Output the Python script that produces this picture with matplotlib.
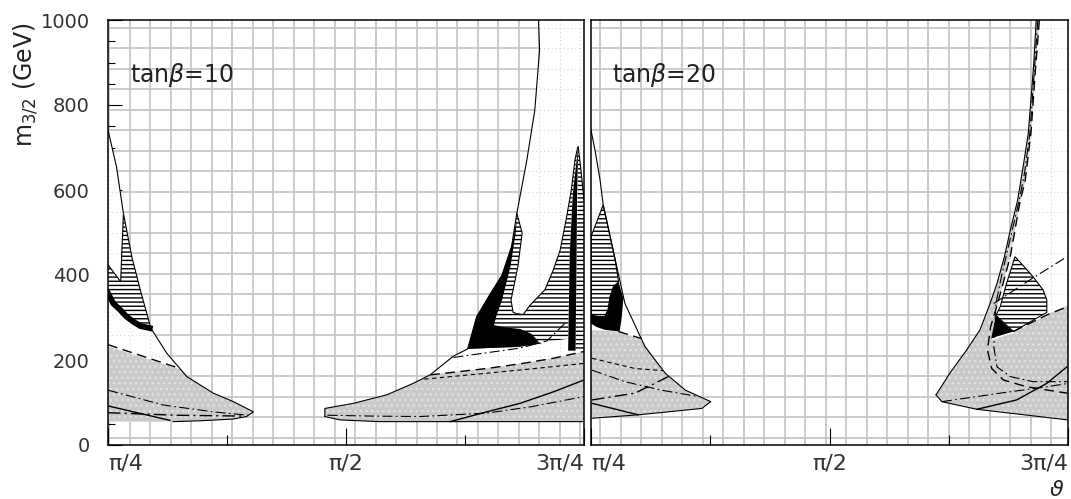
import numpy as np
import matplotlib.pyplot as plt
from matplotlib.patches import Polygon

# theta in degrees (45 = pi/4 ... 135 = 3pi/4), m_3/2 in GeV

# ---- tan(beta) = 10 : left region ----
t10_blob_x = [45.0, 46.6, 47.9, 49.5, 51.1, 53.1, 56.1, 59.9, 64.9, 68.7, 72.5, 71.2, 68.6, 62.4, 57.3, 45.0]
t10_blob_m = [741, 655, 546, 443, 365, 275, 216, 161, 122, 102, 78, 67, 61, 57, 55, 55]
t10_gray_x = [45.0, 58.9, 59.9, 64.9, 68.7, 72.5, 71.2, 68.6, 62.4, 57.3, 45.0]
t10_gray_m = [232, 177, 161, 122, 102, 78, 67, 61, 57, 55, 55]
t10_hatch_x = [45.0, 47.4, 47.6, 47.9, 49.5, 51.1, 53.1, 51.1, 49.8, 48.5, 47.3, 46.0, 45.0]
t10_hatch_m = [424, 384, 450, 540, 443, 365, 275, 280, 290, 302, 318, 333, 357]
t10_band_x = [45.0, 46.0, 47.3, 48.5, 49.8, 51.1, 52.9]
t10_band_m = [357, 333, 318, 302, 290, 280, 275]
t10_notch_x = [45.0, 47.4, 47.6, 47.9]
t10_notch_m = [424, 384, 450, 540]
t10_dash_a_x = [45.0, 58.6]
t10_dash_a_m = [236, 180]
t10_dd_a_x = [45.0, 55.5, 64.9, 71.5]
t10_dd_a_m = [129, 94, 78, 70]
t10_dd_b_x = [45.0, 58.0, 71.0]
t10_dd_b_m = [76, 70, 68]
t10_sol_a_x = [45.0, 56.7]
t10_sol_a_m = [92, 58]

# ---- tan(beta) = 10 : right region ----
t10_outer_x = [86.0, 86.0, 91.4, 97.7, 102.7, 105.9, 110.3, 113.0, 114.7, 117.0, 119.5,
               121.3, 122.3, 124.2, 125.7, 126.6, 126.4, 135.0, 135.0, 96.4, 88.9]
t10_outer_m = [67, 86, 98, 118, 145, 165, 209, 226, 302, 350, 400,
               467, 545, 671, 788, 929, 1000, 1000, 55, 55, 59]
t10_gray2_x = [86.0, 91.4, 97.7, 102.7, 105.9, 116.6, 122.9, 129.2, 135.0, 135.0, 96.4, 88.9, 86.0]
t10_gray2_m = [86, 98, 118, 145, 165, 180, 191, 204, 220, 55, 55, 59, 67]
t10_u_x = [113.0, 114.7, 117.0, 119.5, 121.3, 122.3, 123.3, 122.5, 121.2, 121.6, 122.3, 123.5,
           124.8, 127.6, 129.2, 130.5, 131.6, 132.6, 133.3, 133.8, 132.9, 132.3, 132.0,
           129.0, 126.5, 122.9, 116.6]
t10_u_m = [226, 302, 350, 400, 467, 545, 499, 420, 341, 312, 309, 307,
           329, 365, 412, 459, 529, 600, 671, 700, 593, 450, 250,
           245, 238, 231, 228]
t10_black_x = [113.0, 114.7, 117.0, 119.5, 121.3, 122.3, 122.1, 121.1, 119.5, 118.4, 118.0,
               120.0, 122.9, 125.0, 126.3, 126.5, 122.9, 116.6]
t10_black_m = [226, 302, 350, 400, 467, 530, 500, 420, 341, 302, 282,
               277, 273, 262, 245, 238, 231, 228]
t10_tongue_x = [122.3, 123.3, 122.5, 121.2, 121.6, 122.3, 123.5, 124.8, 127.6, 129.2,
                130.5, 131.6, 132.6, 133.3, 133.8]
t10_tongue_m = [545, 499, 420, 341, 312, 309, 307, 329, 365, 412,
                459, 529, 600, 671, 700]
t10_strip_x = [132.0, 132.3, 132.9, 133.9, 133.7, 133.6, 133.4]
t10_strip_m = [222, 450, 593, 702, 593, 450, 222]
t10_shatch_x = [133.4, 135.0, 135.0, 134.4, 133.9]
t10_shatch_m = [222, 222, 576, 650, 700]
t10_dash_b_x = [105.9, 116.6, 122.9, 129.2, 135.0]
t10_dash_b_m = [165, 180, 191, 204, 220]
t10_dash_c_x = [104.8, 115.0, 125.0, 135.0]
t10_dash_c_m = [155, 167, 179, 192]
t10_sol_b_x = [109.7, 116.6, 122.9, 129.2, 135.0]
t10_sol_b_m = [55, 78, 98, 125, 153]
t10_dd_c_x = [86.5, 95.0, 104.0, 116.6, 125.0, 135.0]
t10_dd_c_m = [70, 68, 67, 75, 90, 114]
t10_dd_d_x = [110.3, 116.0, 122.9, 128.0, 131.7]
t10_dd_d_m = [206, 216, 228, 245, 290]

# ---- tan(beta) = 20 : left region ----
t20_blob_x = [45.0, 45.75, 46.7, 47.3, 49.5, 51.4, 55.2, 59.0, 62.8, 67.6, 65.9, 53.9, 45.2, 45.0]
t20_blob_m = [741, 694, 624, 565, 440, 333, 231, 169, 129, 102, 86, 71, 63, 63]
t20_gray_x = [45.0, 47.6, 50.4, 54.6, 59.0, 62.8, 67.6, 65.9, 53.9, 45.2, 45.0]
t20_gray_m = [270, 269, 266, 247, 169, 129, 102, 86, 71, 63, 63]
t20_hatch_x = [45.0, 47.3, 49.5, 50.2, 49.2, 48.6, 48.2, 47.6, 46.4, 45.0]
t20_hatch_m = [490, 565, 440, 384, 372, 349, 318, 302, 302, 306]
t20_black_x = [45.0, 46.4, 47.6, 48.2, 48.6, 49.2, 50.2, 51.1, 50.8, 50.4, 47.6, 46.0, 45.0]
t20_black_m = [306, 302, 302, 318, 349, 372, 384, 345, 300, 267, 271, 278, 286]
t20_dash_a_x = [50.2, 54.6]
t20_dash_a_m = [267, 250]
t20_dash_b_x = [45.2, 53.3, 58.6]
t20_dash_b_m = [204, 180, 175]
t20_dd_a_x = [45.2, 51.4, 58.3, 65.2]
t20_dd_a_m = [176, 149, 129, 114]
t20_dd_b_x = [45.2, 53.3, 59.6]
t20_dd_b_m = [106, 122, 161]
t20_sol_a_x = [45.2, 53.9]
t20_sol_a_m = [98, 71]

# ---- tan(beta) = 20 : right region ----
t20_outer_x = [110.1, 112.7, 115.9, 118.4, 120.3, 121.6, 123.0, 124.2, 125.5, 126.6, 127.5, 128.5, 129.0,
               135.0, 135.0, 117.8, 111.2]
t20_outer_m = [118, 169, 224, 271, 333, 380, 443, 510, 576, 660, 733, 890, 1000,
               1000, 59, 84, 102]
t20_gray2_x = [110.1, 112.7, 115.9, 118.4, 120.3, 121.6, 123.0, 124.2, 125.5, 126.6, 127.5, 128.5, 129.0,
               129.6, 128.9, 128.0, 126.9, 126.0, 124.1, 121.9, 120.6, 124.7, 131.0, 135.0, 135.0, 117.8, 111.2]
t20_gray2_m = [118, 169, 224, 271, 333, 380, 443, 510, 576, 660, 733, 890, 1000,
               1000, 890, 733, 620, 576, 443, 341, 247, 263, 306, 329, 59, 84, 102]
t20_hatch2_x = [125.0, 126.7, 128.4, 130.3, 131.0, 131.0, 124.7, 121.4, 122.2, 123.4]
t20_hatch2_m = [443, 420, 396, 365, 341, 312, 267, 305, 325, 380]
t20_black2_x = [121.4, 120.5, 121.5, 124.7, 123.0]
t20_black2_m = [305, 250, 255, 267, 285]
t20_dash_c_x = [129.6, 128.9, 128.0, 126.9, 126.0, 124.1, 121.9, 120.4, 119.8, 120.6, 122.8, 127.2, 134.8]
t20_dash_c_m = [1000, 890, 733, 620, 576, 443, 341, 278, 224, 180, 153, 137, 122]
t20_dd_c_x = [129.3, 128.7, 127.8, 126.8, 125.8, 124.0, 122.5, 121.4, 121.0, 121.6, 124.1, 128.4, 134.8]
t20_dd_c_m = [1000, 890, 733, 640, 576, 480, 400, 333, 231, 184, 161, 149, 149]
t20_dd_d_x = [121.0, 128.0, 134.8]
t20_dd_d_m = [333, 390, 443]
t20_dash_d_x = [124.7, 131.0, 134.8]
t20_dash_d_m = [267, 306, 325]
t20_dd_e_x = [111.2, 122.2, 131.0, 135.0]
t20_dd_e_m = [102, 122, 137, 145]
t20_sol_b_x = [117.8, 125.3, 131.0, 134.8]
t20_sol_b_m = [84, 106, 145, 184]

x_ticks = [45, 90, 135]
x_ticklabels = ["π/4", "π/2", "3π/4"]
y_ticks = [0, 200, 400, 600, 800, 1000]

GRAY = "#c9c9c9"
GRID = "#c2c2c2"
DASH = (0, (7, 4))
SDASH = (0, (4, 3))
DDOT = (0, (9, 3, 1.5, 3))
GRID_Y = np.arange(17.2, 1000, 48.24)


def grid_x(x0):
    return np.arange(x0, 135, 3.87)


def white(ax, x, m, x0):
    # white region; the grid shows through only as faint dots
    p = Polygon(np.column_stack([x, m]), closed=True, facecolor="white",
                edgecolor="none", lw=0, zorder=2)
    ax.add_patch(p)
    for gx in grid_x(x0):
        ln = ax.axvline(gx, color="#cdcdcd", lw=0.7, ls=(0, (1, 3)), zorder=2.5)
        ln.set_clip_path(p)
    for gy in GRID_Y:
        ln = ax.axhline(gy, color="#cdcdcd", lw=0.7, ls=(0, (1, 3)), zorder=2.5)
        ln.set_clip_path(p)


def gray(ax, x, m):
    ax.add_patch(Polygon(np.column_stack([x, m]), closed=True, facecolor=GRAY,
                         edgecolor="#e2e2e2", hatch="...", lw=0, zorder=3))


def fill(ax, x, m, color, z):
    ax.add_patch(Polygon(np.column_stack([x, m]), closed=True, facecolor=color,
                         edgecolor="none", lw=0, zorder=z))


def hatched(ax, x, m, z=4, lw=0.0):
    ax.add_patch(Polygon(np.column_stack([x, m]), closed=True, facecolor="white",
                         edgecolor="black", hatch="----", lw=lw, zorder=z))


def line(ax, x, m, ls="-", lw=0.8, z=6):
    ax.plot(x, m, color="black", ls=ls, lw=lw, zorder=z)


def setup(ax, x0, left):
    ax.set_xlim(45, 135)
    ax.set_ylim(0, 1000)
    for gx in grid_x(x0):
        ax.axvline(gx, color=GRID, lw=1.2, zorder=1)
    for gy in GRID_Y:
        ax.axhline(gy, color=GRID, lw=1.2, zorder=1)
    ax.set_xticks(x_ticks)
    ax.set_xticklabels(x_ticklabels, fontsize=16, color="#333333")
    ax.set_xticks([67.5, 112.5], minor=True)
    ax.tick_params(axis="x", which="major", direction="in", length=12, width=0.8, pad=6)
    ax.tick_params(axis="x", which="minor", direction="in", length=7, width=0.8)
    labs = ax.get_xticklabels()
    labs[0].set_ha("left")
    labs[-1].set_ha("right")
    if left:
        ax.set_yticks(y_ticks)
        ax.set_yticklabels([str(v) for v in y_ticks], fontsize=14, color="#333333")
        ax.set_yticks(np.arange(50, 1000, 50), minor=True)
        ax.tick_params(axis="y", which="major", direction="in", length=10, width=0.8, pad=13)
        ax.tick_params(axis="y", which="minor", direction="in", length=5, width=0.8)
    else:
        ax.set_yticks([])
    for sp in ax.spines.values():
        sp.set_linewidth(1.1)
        sp.set_zorder(8)


fig = plt.figure(figsize=(10.71, 4.99), dpi=100)
ax1 = fig.add_axes([108 / 1071, 54 / 499, 476 / 1071, 425 / 499])
ax2 = fig.add_axes([591 / 1071, 54 / 499, 477 / 1071, 425 / 499])
setup(ax1, 45.28, True)
setup(ax2, 46.7, False)

# tan(beta) = 10
white(ax1, t10_blob_x, t10_blob_m, 45.28)
gray(ax1, t10_gray_x, t10_gray_m)
hatched(ax1, t10_hatch_x, t10_hatch_m)
line(ax1, t10_band_x, t10_band_m, lw=4.2, z=5)
line(ax1, t10_notch_x, t10_notch_m)
line(ax1, t10_blob_x[:-1], t10_blob_m[:-1])
line(ax1, t10_dash_a_x, t10_dash_a_m, ls=DASH, lw=1.0)
line(ax1, t10_dd_a_x, t10_dd_a_m, ls=DDOT)
line(ax1, t10_dd_b_x, t10_dd_b_m, ls=DDOT, lw=1.0)
line(ax1, t10_sol_a_x, t10_sol_a_m, lw=1.0)

white(ax1, t10_outer_x, t10_outer_m, 45.28)
gray(ax1, t10_gray2_x, t10_gray2_m)
hatched(ax1, t10_u_x, t10_u_m)
hatched(ax1, t10_shatch_x, t10_shatch_m)
fill(ax1, t10_black_x, t10_black_m, "black", 5)
fill(ax1, t10_strip_x, t10_strip_m, "black", 5)
line(ax1, t10_outer_x[:17], t10_outer_m[:17])
line(ax1, [86.0, 88.9, 96.4, 135.0], [67, 59, 55, 55])
line(ax1, t10_tongue_x, t10_tongue_m)
line(ax1, [133.9, 134.4, 135.0], [702, 650, 576])
line(ax1, t10_dash_b_x, t10_dash_b_m, ls=DASH, lw=1.0)
line(ax1, t10_dash_c_x, t10_dash_c_m, ls=SDASH)
line(ax1, t10_sol_b_x, t10_sol_b_m, lw=1.0)
line(ax1, t10_dd_c_x, t10_dd_c_m, ls=DDOT)
line(ax1, t10_dd_d_x, t10_dd_d_m, ls=DDOT)

# tan(beta) = 20
white(ax2, t20_blob_x, t20_blob_m, 46.7)
gray(ax2, t20_gray_x, t20_gray_m)
hatched(ax2, t20_hatch_x, t20_hatch_m, lw=0.8)
fill(ax2, t20_black_x, t20_black_m, "black", 5)
line(ax2, t20_blob_x[:-1], t20_blob_m[:-1])
line(ax2, t20_dash_a_x, t20_dash_a_m, ls=DASH, lw=1.0)
line(ax2, t20_dash_b_x, t20_dash_b_m, ls=SDASH)
line(ax2, t20_dd_a_x, t20_dd_a_m, ls=DDOT)
line(ax2, t20_dd_b_x, t20_dd_b_m, ls=DDOT, lw=1.0)
line(ax2, t20_sol_a_x, t20_sol_a_m, lw=1.0)

white(ax2, t20_outer_x, t20_outer_m, 46.7)
gray(ax2, t20_gray2_x, t20_gray2_m)
hatched(ax2, t20_hatch2_x, t20_hatch2_m, lw=0.8)
fill(ax2, t20_black2_x, t20_black2_m, "black", 5)
line(ax2, t20_outer_x[:13], t20_outer_m[:13])
line(ax2, [110.1, 111.2, 117.8, 135.0], [118, 102, 84, 59])
line(ax2, t20_dash_c_x, t20_dash_c_m, ls=DASH, lw=1.0)
line(ax2, t20_dd_c_x, t20_dd_c_m, ls=DDOT)
line(ax2, t20_dd_d_x, t20_dd_d_m, ls=DDOT)
line(ax2, t20_dash_d_x, t20_dash_d_m, ls=DASH, lw=1.0)
line(ax2, t20_dd_e_x, t20_dd_e_m, ls=DDOT)
line(ax2, t20_sol_b_x, t20_sol_b_m, lw=1.0)

ax1.text(0.046, 0.87, r"tan$\beta$=10", transform=ax1.transAxes, fontsize=17,
         va="center", ha="left", color="#222222", zorder=9)
ax2.text(0.044, 0.87, r"tan$\beta$=20", transform=ax2.transAxes, fontsize=17,
         va="center", ha="left", color="#222222", zorder=9)

fig.text(0.024, 0.83, r"m$_{3/2}$ (GeV)", rotation=90, fontsize=17,
         ha="center", va="center", color="#222222")
fig.text(1057 / 1071, 1 - 490 / 499, r"$\vartheta$", fontsize=16,
         ha="center", va="center", color="#222222")

fig.savefig("out.png", dpi=100)
